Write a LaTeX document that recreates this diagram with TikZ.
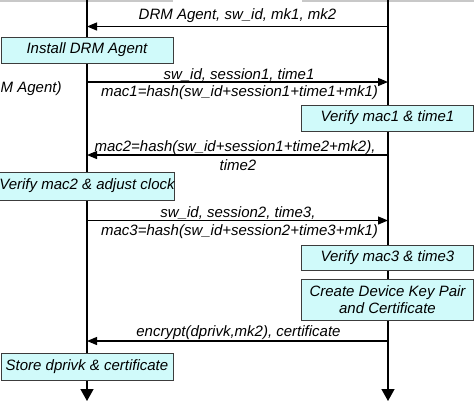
\documentclass[tikz,border=0pt]{standalone}
\usepackage{fontspec}
\setmainfont{Liberation Sans}
\usetikzlibrary{arrows.meta}
\definecolor{boxfill}{RGB}{208,250,250}
\definecolor{boxline}{RGB}{60,60,60}
\definecolor{topgrey}{RGB}{200,200,200}
\tikzset{
  lifeline/.style={line width=1.4pt, black, -{Triangle[length=12pt,width=13pt]}},
  msg/.style={line width=1.2pt, black, -{Triangle[length=10pt,width=8pt]}},
  actbox/.style={draw=boxline, line width=0.9pt, fill=boxfill, minimum width=172pt, inner sep=0pt, align=center, font=\fontsize{15}{17}\selectfont\itshape},
  lbl/.style={inner sep=0pt, font=\fontsize{15}{17}\selectfont\itshape}
}
\begin{document}
\begin{tikzpicture}[x=1pt,y=-1pt]
\useasboundingbox (0,0) rectangle (474,402);
\clip (0,0) rectangle (474,402);
% top grey remnants
\fill[topgrey] (0,0) rectangle (173,2);
\fill[topgrey] (302,0) rectangle (474,2);
% lifelines
\coordinate (Ltop) at (87,0);
\coordinate (Lbot) at (87,401);
\coordinate (Rtop) at (388,0);
\coordinate (Rbot) at (388,401);
\draw[lifeline] (Ltop) -- (Lbot);
\draw[lifeline] (Rtop) -- (Rbot);
% message 1
\coordinate (R1) at (388,26.5);
\coordinate (L1) at (87,26.5);
\draw[msg] (R1) -- (L1);
\node[lbl] (m1) at (237.5,16) {DRM Agent, sw\_id, mk1, mk2};
% install box
\node[actbox, minimum height=26pt] (install) at (87,50) {Install DRM Agent};
\node[lbl, anchor=west] (partial) at (0.5,89) {M Agent)};
% message 2
\coordinate (L2) at (87,82);
\coordinate (R2) at (388,82);
\draw[msg] (L2) -- (R2);
\node[lbl] (m2a) at (239,75) {sw\_id, session1, time1};
\node[lbl] (m2b) at (239.5,92.5) {mac1=hash(sw\_id+session1+time1+mk1)};
% verify mac1
\node[actbox, minimum height=26pt] (v1) at (387.5,118) {Verify mac1 \& time1};
% message 3
\coordinate (R3) at (388,155);
\coordinate (L3) at (87,155);
\draw[msg] (R3) -- (L3);
\node[lbl] (m3a) at (235,148) {mac2=hash(sw\_id+session1+time2+mk2),};
\node[lbl] (m3b) at (238,165.5) {time2};
% verify mac2
\node[actbox, minimum height=28pt] (v2) at (87,186) {Verify mac2 \& adjust clock};
% message 4
\coordinate (L4) at (87,220.5);
\coordinate (R4) at (388,220.5);
\draw[msg] (L4) -- (R4);
\node[lbl] (m4a) at (238,213.5) {sw\_id, session2, time3,};
\node[lbl] (m4b) at (239.5,231.5) {mac3=hash(sw\_id+session2+time3+mk1)};
% verify mac3
\node[actbox, minimum height=25pt] (v3) at (387.5,258) {Verify mac3 \& time3};
% create key pair
\node[actbox, minimum height=41pt] (ck) at (387.5,299.5) {Create Device Key Pair\\and Certificate};
% message 5
\coordinate (R5) at (388,341);
\coordinate (L5) at (87,341);
\draw[msg] (R5) -- (L5);
\node[lbl] (m5) at (238.5,333) {encrypt(dprivk,mk2), certificate};
% store
\node[actbox, minimum height=27pt] (st) at (87,366.5) {Store dprivk \& certificate};
\end{tikzpicture}
\end{document}
